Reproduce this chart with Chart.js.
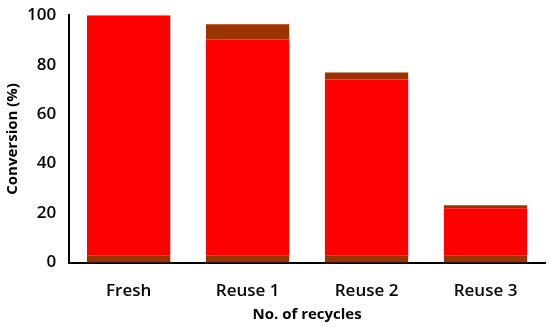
<!DOCTYPE html>
<html>
<head>
<meta charset="utf-8">
<script src="https://cdn.jsdelivr.net/npm/chart.js@4/dist/chart.umd.min.js"></script>
<style>
  html, body { margin: 0; padding: 0; background: #fff; }
  .chart-container { width: 550px; height: 327px; }
</style>
</head>
<body>
<div class="chart-container">
  <canvas id="chart"></canvas>
</div>
<script>
// recycle runs and conversion
const categories = ['Fresh', 'Reuse 1', 'Reuse 2', 'Reuse 3'];
const baseBand = [3, 3, 3, 3];             // dark band at the foot of each bar
const conversion = [97, 87.2, 71, 19];     // red part
const upperBand = [0, 6.1, 2.8, 1.2];      // dark cap on top
const yTicks = [0, 20, 40, 60, 80, 100];

const family = '"Open Sans", Lato, sans-serif';
const ctx = document.getElementById('chart').getContext('2d');
new Chart(ctx, {
  type: 'bar',
  data: {
    labels: categories,
    datasets: [
      { data: baseBand, backgroundColor: '#9a3300', stack: 's' },
      { data: conversion, backgroundColor: '#ff0000', stack: 's' },
      { data: upperBand, backgroundColor: '#9a3300', stack: 's' },
    ],
  },
  options: {
    responsive: true,
    maintainAspectRatio: false,
    animation: false,
    layout: { padding: { top: 7, right: 5, left: 4, bottom: 0 } },
    plugins: { legend: { display: false }, tooltip: { enabled: false } },
    datasets: { bar: { categoryPercentage: 0.7, barPercentage: 1.0 } },
    scales: {
      x: {
        stacked: true,
        grid: { display: false, drawTicks: false },
        border: { color: '#000', width: 2 },
        ticks: { color: '#000', font: { family, size: 17, weight: 600 }, padding: 18 },
        title: { display: true, text: 'No. of recycles', color: '#000',
                 font: { family, size: 15, weight: 'bold' }, padding: { top: -13, bottom: 3 } },
      },
      y: {
        stacked: true,
        min: 0,
        max: 100,
        afterBuildTicks: axis => { axis.ticks = yTicks.map(v => ({ value: v })); },
        grid: { display: false, drawOnChartArea: false, drawTicks: true, tickLength: 8, tickColor: '#000', tickWidth: 2 },
        border: { color: '#000', width: 2 },
        ticks: { color: '#000', font: { family, size: 17, weight: 600 }, padding: 5 },
        title: { display: true, text: 'Conversion (%)', color: '#000',
                 font: { family, size: 15, weight: 'bold' }, padding: { top: 0, bottom: 0 } },
      },
    },
  },
});
</script>
</body>
</html>
